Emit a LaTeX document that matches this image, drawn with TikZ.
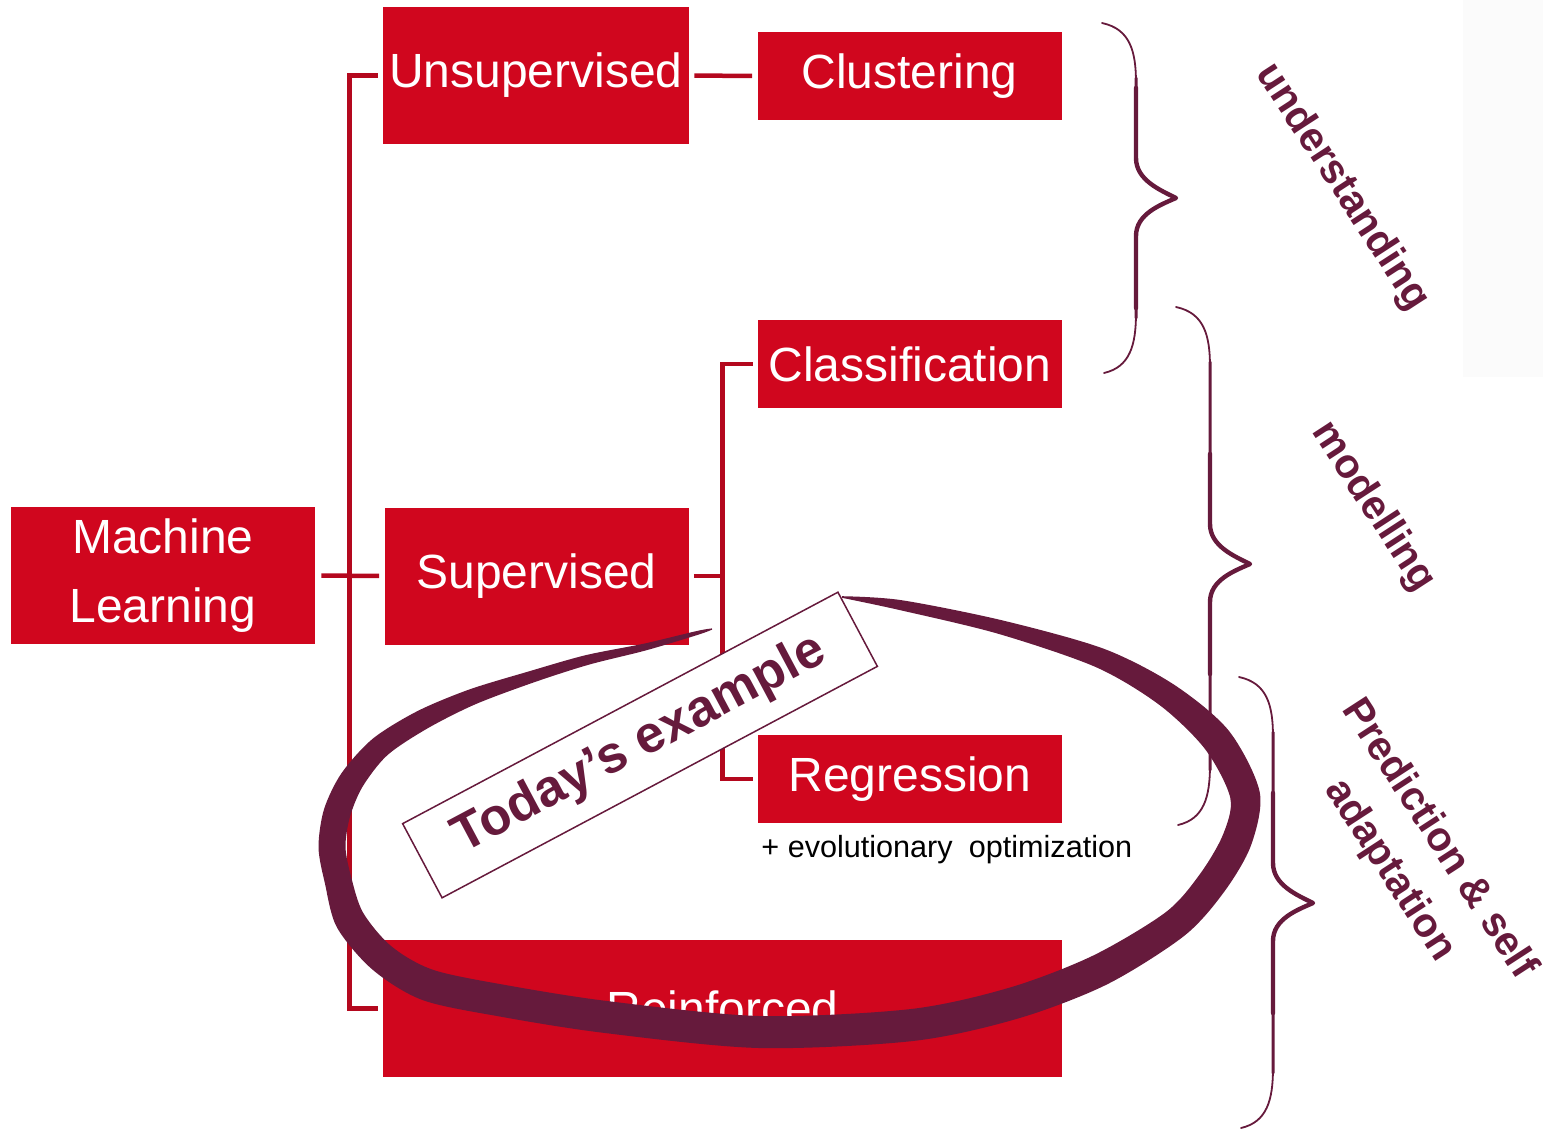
\documentclass[tikz,border=0pt]{standalone}
\usepackage{fontspec}
\setmainfont{Liberation Sans}[BoldFont={Liberation Sans Bold}]
\usetikzlibrary{positioning,calc}
\definecolor{mlred}{RGB}{208,6,30}
\definecolor{linkred}{RGB}{180,8,30}
\definecolor{plum}{RGB}{102,26,60}

\begin{document}
\begin{tikzpicture}[x=0.5pt,y=-0.5pt,
  box/.style={fill=mlred,text=white,inner sep=0pt,minimum width=152pt,minimum height=68.5pt,align=center,font=\fontsize{24pt}{34.5pt}\selectfont},
  lowbox/.style={box,minimum height=44pt},
  link/.style={draw=linkred,line width=2.25pt,shorten <=2.5pt,shorten >=2.5pt},
  brace/.style={draw=plum,line cap=round,line join=round},
  tag/.style={text=plum,font=\bfseries\fontsize{20.5pt}{29pt}\selectfont,align=center,rotate=-57}]
\useasboundingbox (0,0) rectangle (1543,1131);
\fill[black!1.5] (1463,0) rectangle (1543,377);
% the tree
\node[box]                       (ml)    at (163,575.5)   {Machine\\Learning};
\node[box,minimum width=153pt]   (unsup) at (536,75.5)    {Unsupervised};
\node[box]                       (sup)   at (536.5,576)   {Supervised};
\node[box,minimum width=339.5pt] (reinf) at (722.5,1008.5){Reinforced};
\node[lowbox] (clus) at (909.5,76) {Clustering};
\node[lowbox] (cls)  at (910,364)  {Classification};
\node[lowbox] (reg)  at (910,779)  {Regression};
\node[anchor=base west,inner sep=0pt,font=\fontsize{15.3pt}{18pt}\selectfont] (evo) at (761,857) {+ evolutionary\hspace{0.25em} optimization};
\coordinate (bus)  at (349.5,576);
\coordinate (sbus) at (722.5,576);
\draw[link] (unsup.west) -| (bus) |- (reinf.west);
\draw[link,shorten <=3pt] (ml.east) -- (sup.west);
\draw[link] (unsup.east) -- (clus.west);
\draw[link,shorten >=0pt] (sup.east) -- (sbus);
\draw[link] (cls.west) -| (sbus) |- (reg.west);
% braces and their labels
\foreach \s/\t/\m/\b in {1136/23/198/373,1210/307/564/825,1273/677/903/1128}{
  \draw[brace,line width=0.9pt] ({\s-34},\t) .. controls ({\s-6},{\t+6}) and (\s,{\t+28}) .. (\s,{\t+60})
    -- (\s,{\m-40}) .. controls (\s,{\m-18}) and ({\s+24},{\m-8}) .. ({\s+40},\m)
    .. controls ({\s+24},{\m+7}) and (\s,{\m+16}) .. (\s,{\m+38})
    -- (\s,{\b-60}) .. controls (\s,{\b-28}) and ({\s-6},{\b-6}) .. ({\s-32},\b);
  \draw[brace,line width=1.5pt] (\s,{\t+55}) -- (\s,{\m-40}) .. controls (\s,{\m-18}) and ({\s+24},{\m-8}) .. ({\s+40},\m)
    .. controls ({\s+24},{\m+7}) and (\s,{\m+16}) .. (\s,{\m+38}) -- (\s,{\b-55});
  \draw[brace,line width=2.2pt] (\s,{\m-110}) -- (\s,{\m-40}) .. controls (\s,{\m-18}) and ({\s+24},{\m-8}) .. ({\s+40},\m)
    .. controls ({\s+24},{\m+7}) and (\s,{\m+16}) .. (\s,{\m+38}) -- (\s,{\m+110});
}
\node[tag] (und)  at (1342,187) {understanding};
\node[tag] (mod)  at (1373,507) {modelling};
\node[tag] (pred) at (1414,855) {Prediction \& self\\adaptation};
% brush ring: centre line, then half widths (pt)
\foreach \x/\y [count=\i] in {842/597,900/605,1000/627,1100/658,1167/695,1217/740,1245/795,1237/840,
  1212/883,1175/924,1100/970,1014/1003,912/1025,759/1032,606/1017,504/1001,428/985,382/958,350/920,
  338/880,332/847,337/813,352/780,380/747,422/720,472/697,531/677,587/660,645/647,697/633,712/629}
  \coordinate (p\i) at (\x,\y);
\foreach \hw [count=\i] in {0.4,2.5,3.5,5,6.25,7.5,7.5,7.5,7.5,7.5,8,8,8,8,8,8,8,7.5,7.5,
  6.75,6.75,6.75,6.25,5.5,5,4,3,2.5,1.75,1,0.3}{
  \pgfmathtruncatemacro\h{max(\i-1,1)}
  \pgfmathtruncatemacro\j{min(\i+1,31)}
  \coordinate (d\i) at ($(p\h)!\hw pt!90:(p\j)$);
  \coordinate (o\i) at ($(p\i)+(d\i)-(p\h)$);
  \coordinate (d\i) at ($(p\h)!\hw pt!-90:(p\j)$);
  \coordinate (n\i) at ($(p\i)+(d\i)-(p\h)$);
}
\fill[plum] plot[smooth,variable=\k,samples at={1,...,31}] (o\k)
  -- plot[smooth,variable=\k,samples at={31,30,...,1}] (n\k) -- cycle;
\node[draw=plum,line width=0.75pt,fill=white,rotate=28,minimum width=246.5pt,minimum height=42pt,inner sep=0pt,
  text=plum,font=\bfseries\fontsize{26pt}{30pt}\selectfont] (today) at (640,745) {Today’s example};
\end{tikzpicture}
\end{document}
